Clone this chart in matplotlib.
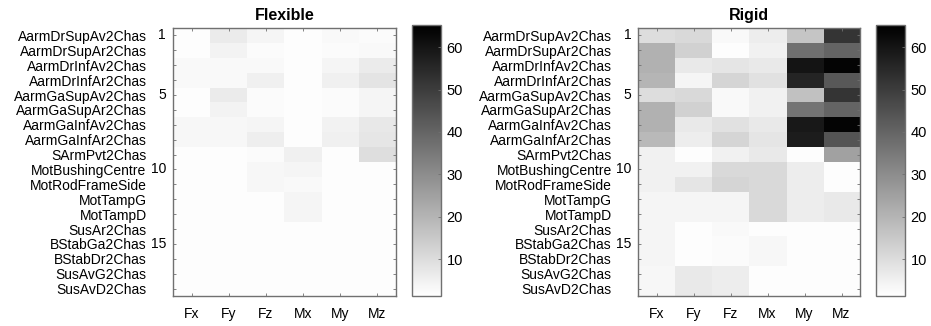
import numpy as np
import matplotlib
matplotlib.use('Agg')
import matplotlib.pyplot as plt

plt.rcParams['font.family'] = ['Liberation Sans', 'DejaVu Sans']

# Données
rows = ['AarmDrSupAv2Chas', 'AarmDrSupAr2Chas', 'AarmDrInfAv2Chas', 'AarmDrInfAr2Chas',
        'AarmGaSupAv2Chas', 'AarmGaSupAr2Chas', 'AarmGaInfAv2Chas', 'AarmGaInfAr2Chas',
        'SArmPvt2Chas', 'MotBushingCentre', 'MotRodFrameSide', 'MotTampG', 'MotTampD',
        'SusAr2Chas', 'BStabGa2Chas', 'BStabDr2Chas', 'SusAvG2Chas', 'SusAvD2Chas']
row_numbers = {0: '1', 4: '5', 9: '10', 14: '15'}
cols = ['Fx', 'Fy', 'Fz', 'Mx', 'My', 'Mz']

flexible = [
    [1.8, 6.3, 3.8, 1.8, 3.0, 2.5],
    [1.8, 4.3, 2.5, 1.8, 2.5, 3.0],
    [3.0, 3.0, 3.0, 1.8, 3.8, 6.3],
    [3.0, 3.0, 5.1, 1.8, 5.1, 8.1],
    [1.8, 6.3, 2.5, 1.8, 2.5, 3.8],
    [1.8, 4.3, 2.5, 1.8, 2.5, 3.8],
    [3.3, 3.3, 3.8, 1.8, 4.6, 7.1],
    [3.3, 3.3, 5.6, 1.8, 5.1, 7.6],
    [1.8, 1.8, 2.5, 5.1, 1.8, 9.6],
    [1.8, 1.8, 3.3, 3.8, 1.8, 1.8],
    [1.8, 1.8, 3.3, 3.0, 1.8, 1.8],
    [1.8, 1.8, 1.8, 3.8, 1.8, 1.8],
    [1.8, 1.8, 1.8, 3.8, 1.8, 1.8],
    [1.8, 1.8, 1.8, 1.8, 1.8, 1.8],
    [1.8, 1.8, 1.8, 1.8, 1.8, 1.8],
    [1.8, 1.8, 1.8, 1.8, 1.8, 1.8],
    [1.8, 1.8, 1.8, 1.8, 1.8, 1.8],
    [1.8, 1.8, 1.8, 1.8, 1.8, 1.8],
]

rigid = [
    [10, 11, 3, 6, 16, 52],
    [21, 13, 2, 5, 37, 40],
    [21, 7, 8, 7, 60, 64],
    [20, 4, 12, 9, 56, 43],
    [10, 11, 3, 5, 17, 52],
    [21, 13, 3, 5, 36, 40],
    [21, 7, 9, 7, 59, 64],
    [19, 6, 12, 8, 58, 44],
    [5, 2, 5, 7, 2, 25],
    [5, 5, 11, 11, 6, 2],
    [5, 8, 12, 11, 6, 2],
    [4, 4, 4, 11, 6, 7],
    [4, 4, 4, 11, 6, 7],
    [4, 2, 3, 2, 2, 2],
    [4, 2, 2.5, 3.5, 2, 2],
    [4, 2, 2.5, 3.5, 2, 2],
    [3.5, 7, 6, 2, 2, 2],
    [3.5, 7, 6, 2, 2, 2],
]

VMIN, VMAX = 1.3, 65.2
cbar_ticks = [10, 20, 30, 40, 50, 60]
frame_color = '#707070'
FS = 10

fig = plt.figure(figsize=(9.31, 3.26), dpi=100)

layout = [
    ('Flexible', flexible, [0.1858, 0.092, 0.2395, 0.822], [0.4425, 0.092, 0.0311, 0.831]),
    ('Rigid', rigid, [0.6853, 0.092, 0.2385, 0.822], [0.941, 0.092, 0.0311, 0.831]),
]

for title, data, pos, cpos in layout:
    ax = fig.add_axes(pos)
    im = ax.imshow(np.array(data), cmap='gray_r', vmin=VMIN, vmax=VMAX,
                   aspect='auto', interpolation='nearest')
    ax.set_title(title, fontsize=11.5, fontweight='bold', pad=6)
    ax.set_xticks(range(len(cols)))
    ax.set_xticklabels(cols, fontsize=FS)
    ax.set_yticks(range(len(rows)))
    ax.set_yticklabels(rows, fontsize=FS)
    ax.tick_params(axis='both', direction='in', length=2.5, width=0.6,
                   color=frame_color, top=True, right=True)
    ax.tick_params(axis='y', pad=19)
    ax.tick_params(axis='x', pad=8)
    for sp in ax.spines.values():
        sp.set_color(frame_color)
        sp.set_linewidth(1.0)
    for i, num in row_numbers.items():
        ax.text(-0.031, i, num, transform=ax.get_yaxis_transform(),
                ha='right', va='center', fontsize=FS)

    cax = fig.add_axes(cpos)
    cb = fig.colorbar(im, cax=cax, ticks=cbar_ticks)
    cb.outline.set_edgecolor(frame_color)
    cb.outline.set_linewidth(1.0)
    cax.tick_params(direction='in', length=2.5, width=0.6, color=frame_color,
                    labelsize=FS + 0.5, pad=4)

fig.savefig('out.png', dpi=100)
